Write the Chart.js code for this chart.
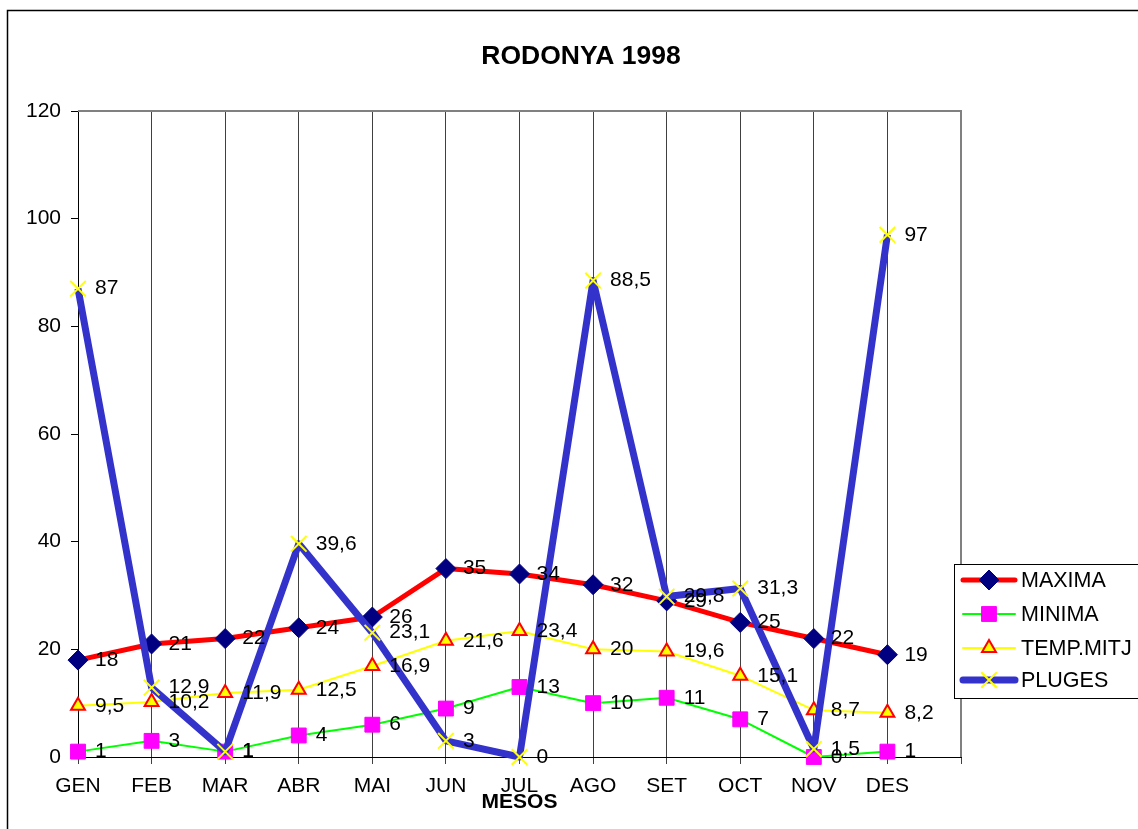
<!DOCTYPE html>
<html>
<head>
<meta charset="utf-8">
<title>RODONYA 1998</title>
<script src="https://cdn.jsdelivr.net/npm/chart.js"></script>
<style>
  html, body { margin: 0; padding: 0; background: #fff; }
  canvas { display: block; }
</style>
</head>
<body>
<canvas id="lineChart" width="1138" height="829"></canvas>
<script>
// dades
var mesos = ["GEN", "FEB", "MAR", "ABR", "MAI", "JUN", "JUL", "AGO", "SET", "OCT", "NOV", "DES"];
var maxima = [18, 21, 22, 24, 26, 35, 34, 32, 29, 25, 22, 19];
var minima = [1, 3, 1, 4, 6, 9, 13, 10, 11, 7, 0, 1];
var tempMitj = [9.5, 10.2, 11.9, 12.5, 16.9, 21.6, 23.4, 20, 19.6, 15.1, 8.7, 8.2];
var pluges = [87, 12.9, 1, 39.6, 23.1, 3, 0, 88.5, 29.8, 31.3, 1.5, 97];
var yTicks = [0, 20, 40, 60, 80, 100, 120];

var TITLE = "RODONYA 1998";
var FONT = "'Liberation Sans', Arial, sans-serif";

// one empty slot at the end so the plot runs past DES like the original
var labels = mesos.concat([""]);

var lineData = {
    labels: labels,
    datasets: [
        {
            label: "MAXIMA",
            data: maxima,
            borderColor: "#FF0000",
            borderWidth: 5,
            pointStyle: "rectRot",
            pointRadius: 10,
            pointBackgroundColor: "#000080",
            pointBorderColor: "#000080",
            pointBorderWidth: 1,
            order: 4
        },
        {
            label: "MINIMA",
            data: minima,
            borderColor: "#00FF00",
            borderWidth: 2,
            pointStyle: "rect",
            pointRadius: 10.5,
            pointBackgroundColor: "#FF00FF",
            pointBorderColor: "#FF00FF",
            pointBorderWidth: 1,
            order: 3
        },
        {
            label: "TEMP.MITJ",
            data: tempMitj,
            borderColor: "#FFFF00",
            borderWidth: 2,
            pointStyle: "triangle",
            pointRadius: 8,
            pointBackgroundColor: "#FFFF00",
            pointBorderColor: "#FF0000",
            pointBorderWidth: 2,
            order: 2
        },
        {
            label: "PLUGES",
            data: pluges,
            borderColor: "#3333CC",
            borderWidth: 7,
            pointStyle: "crossRot",
            pointRadius: 11,
            pointBackgroundColor: "#FFFF00",
            pointBorderColor: "#FFFF00",
            pointBorderWidth: 2,
            order: 1
        }
    ]
};

lineData.datasets.forEach(function (ds) {
    ds.tension = 0;
    ds.fill = false;
    ds.clip = false;
    ds.pointHoverRadius = ds.pointRadius;
    ds.borderJoinStyle = "round";
});

// title, frame, outer border, value labels and legend
var decorPlugin = {
    id: "decor",
    beforeDraw: function (chart) {
        var ctx = chart.ctx;
        ctx.save();
        ctx.fillStyle = "#fff";
        ctx.fillRect(0, 0, chart.width, chart.height);
        ctx.strokeStyle = "#000";
        ctx.lineWidth = 1.5;
        ctx.strokeRect(7.5, 10.5, chart.width + 20, chart.height + 20);
        ctx.fillStyle = "#000";
        ctx.font = "bold 26.5px " + FONT;
        ctx.textAlign = "center";
        ctx.textBaseline = "middle";
        ctx.fillText(TITLE, 581, 57);
        ctx.restore();
    },
    beforeDatasetsDraw: function (chart) {
        var a = chart.chartArea, ctx = chart.ctx;
        ctx.save();
        ctx.strokeStyle = "#808080";
        ctx.lineWidth = 2;
        ctx.beginPath();
        ctx.moveTo(a.left, a.top);
        ctx.lineTo(a.right, a.top);
        ctx.lineTo(a.right, a.bottom);
        ctx.stroke();
        ctx.restore();
    },
    afterDatasetsDraw: function (chart) {
        var ctx = chart.ctx;
        ctx.save();
        ctx.font = "21px " + FONT;
        ctx.fillStyle = "#000";
        ctx.textAlign = "left";
        ctx.textBaseline = "middle";
        chart.data.datasets.forEach(function (ds, i) {
            var meta = chart.getDatasetMeta(i);
            meta.data.forEach(function (pt, j) {
                var txt = String(ds.data[j]).replace(".", ",");
                ctx.fillText(txt, pt.x + 17, pt.y);
            });
        });
        ctx.restore();
    },
    afterDraw: function (chart) {
        var ctx = chart.ctx;
        var bx = 954, by = 564, bw = 200, bh = 134;
        ctx.save();
        ctx.fillStyle = "#fff";
        ctx.fillRect(bx, by, bw, bh);
        ctx.strokeStyle = "#000";
        ctx.lineWidth = 1;
        ctx.strokeRect(bx + 0.5, by + 0.5, bw, bh);
        var rows = [580, 614, 648, 680];
        chart.data.datasets.forEach(function (ds, i) {
            var y = rows[i];
            ctx.strokeStyle = ds.borderColor;
            ctx.lineWidth = ds.borderWidth;
            ctx.lineCap = "round";
            ctx.beginPath();
            ctx.moveTo(963, y);
            ctx.lineTo(1015, y);
            ctx.stroke();
            ctx.fillStyle = ds.pointBackgroundColor;
            ctx.strokeStyle = ds.pointBorderColor;
            ctx.lineWidth = ds.pointBorderWidth;
            ctx.lineCap = "butt";
            Chart.helpers.drawPoint(ctx, {
                pointStyle: ds.pointStyle,
                radius: ds.pointRadius,
                rotation: 0,
                borderWidth: ds.pointBorderWidth
            }, 989, y);
            ctx.fillStyle = "#000";
            ctx.font = "21.5px " + FONT;
            ctx.textAlign = "left";
            ctx.textBaseline = "middle";
            ctx.fillText(ds.label, 1021, y + 1);
        });
        ctx.restore();
    }
};

var lineOptions = {
    responsive: false,
    animation: false,
    events: [],
    layout: { padding: { left: 0, top: 111, right: 177, bottom: 0 } },
    plugins: {
        legend: { display: false },
        tooltip: { enabled: false },
        title: { display: false }
    },
    scales: {
        x: {
            type: "category",
            offset: false,
            grid: { color: "#404040", lineWidth: 1, tickLength: 7, drawTicks: true },
            border: { color: "#000", width: 1 },
            ticks: {
                color: "#000",
                font: { family: FONT, size: 21 },
                padding: 10,
                maxRotation: 0,
                autoSkip: false
            },
            title: {
                display: true,
                text: "MESOS",
                color: "#000",
                font: { family: FONT, size: 21, weight: "bold", lineHeight: 1.2 },
                padding: { top: 0, bottom: 14 }
            },
            afterFit: function (scale) { scale.height = 72; }
        },
        y: {
            min: yTicks[0],
            max: yTicks[yTicks.length - 1],
            grid: { drawOnChartArea: false, drawTicks: true, tickLength: 7, color: "#000" },
            border: { color: "#000", width: 1 },
            ticks: {
                color: "#000",
                font: { family: FONT, size: 21 },
                padding: 10
            },
            afterBuildTicks: function (scale) {
                scale.ticks = yTicks.map(function (v) { return { value: v }; });
            },
            afterFit: function (scale) { scale.width = 78; }
        }
    }
};

var ctx = document.getElementById("lineChart").getContext("2d");
new Chart(ctx, { type: "line", data: lineData, options: lineOptions, plugins: [decorPlugin] });
</script>
</body>
</html>
